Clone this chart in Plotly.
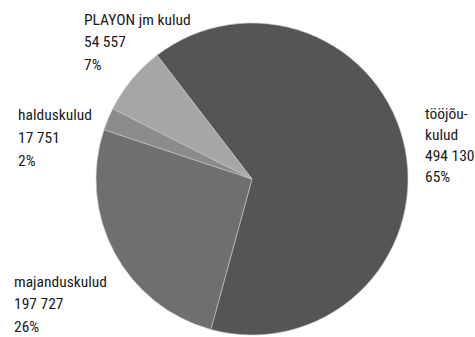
import plotly.graph_objects as go

labels = ["tööjõu-<br>kulud", "majanduskulud", "halduskulud", "PLAYON jm kulud"]
values = [494130, 197727, 17751, 54557]
colors = ["#555555", "#6f6f6f", "#8b8b8b", "#a6a6a6"]

W, H = 475, 337
cx, cy, r = 252, 179, 156

total = sum(values)
def fmt(v):
    return f"{v:,}".replace(",", " ")

lines = [lab.split("<br>") + [fmt(v), f"{round(v / total * 100)}%"] for lab, v in zip(labels, values)]

# label left x and first baseline y, plus line step (pixels)
label_pos = [(424, 119, 21.3), (13, 287, 22.5), (17, 120, 23), (83, 25, 22.5)]

fig = go.Figure(go.Pie(
    labels=[l.replace("<br>", "") for l in labels],
    values=values,
    sort=False,
    direction="clockwise",
    rotation=-37.5,
    marker=dict(colors=colors, line=dict(color="#c8c8c8", width=0.6)),
    textinfo="none",
    hoverinfo="label+value+percent",
    domain=dict(x=[(cx - r) / W, (cx + r) / W], y=[1 - (cy + r) / H, 1 - (cy - r) / H]),
    showlegend=False,
))

font = dict(family="Roboto Condensed, Roboto, sans-serif", size=15.5, color="#1a1a1a")
for ls, (px, by, step) in zip(lines, label_pos):
    for j, t in enumerate(ls):
        base = by + j * step
        fig.add_annotation(
            text=t, xref="paper", yref="paper",
            x=px / W, y=1 - (base - 0.35 * font["size"]) / H, xanchor="left", yanchor="middle",
            align="left", showarrow=False, font=font, borderpad=0,
        )

fig.update_layout(
    width=W, height=H,
    margin=dict(l=0, r=0, t=0, b=0),
    paper_bgcolor="white", plot_bgcolor="white",
)

fig.write_html("out.html", config={"displayModeBar": False},
               post_script="document.body.style.margin='0';")
